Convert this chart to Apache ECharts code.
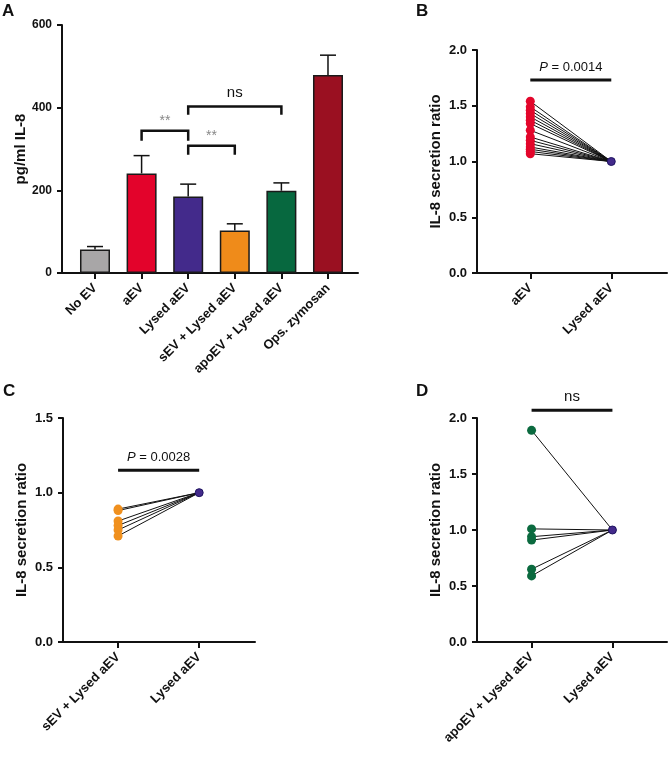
<!DOCTYPE html>
<html>
<head>
<meta charset="utf-8">
<script src="https://cdn.jsdelivr.net/npm/echarts@6/dist/echarts.min.js"></script>
<style>
  html, body { margin: 0; padding: 0; background: #fff; }
  #chart { width: 670px; height: 758px; }
</style>
</head>
<body>
<div id="chart"></div>
<script>
// Panel A: IL-8 concentration per treatment
const catsA = ['No EV', 'aEV', 'Lysed aEV', 'sEV + Lysed aEV', 'apoEV + Lysed aEV', 'Ops. zymosan']
const meansA = [57, 241, 185, 103, 199, 479]
const errA = [7, 43, 30, 16, 19, 48]

// significance brackets in A (category index from/to, top and leg heights in pg/ml)
const brFrom = [1, 2, 2]
const brTo = [2, 3, 4]
const brTop = [344, 308, 403]
const brLeg = [320, 286, 383]
const brText = ['**', '**', 'ns']

// Panels B-D: paired ratios vs. lysed aEV
const catsB = ['aEV', 'Lysed aEV']
const aevRatio = [1.54, 1.49, 1.46, 1.43, 1.40, 1.37, 1.34, 1.28, 1.22, 1.19, 1.16, 1.13, 1.11, 1.09, 1.07]
const catsC = ['sEV + Lysed aEV', 'Lysed aEV']
const sevRatio = [0.89, 0.88, 0.81, 0.78, 0.75, 0.71]
const catsD = ['apoEV + Lysed aEV', 'Lysed aEV']
const apoRatio = [1.89, 1.01, 0.94, 0.91, 0.65, 0.59]
const lysedRatio = 1.0

const sigText = ['P = 0.0014', 'P = 0.0028', 'ns']
const sigY = [1.73, 1.15, 2.07]

const palA = ['#a8a6a7', '#e3032b', '#432a8b', '#ef8b1a', '#07683f', '#9a1021']
const FONT = '"Liberation Sans", Arial, sans-serif'
const INK = '#111'

const chart = echarts.init(document.getElementById('chart'))

function xAxisFor(grid, cats, min, max) {
  const idx = cats.map((_, i) => i)
  return {
    type: 'value', gridIndex: grid, min, max,
    axisLine: { show: true, onZero: false, lineStyle: { color: INK, width: 2 } },
    axisTick: { show: true, length: 6, customValues: idx, lineStyle: { color: INK, width: 2 } },
    axisLabel: {
      customValues: idx, rotate: 45, margin: 13,
      fontFamily: FONT, fontWeight: 'bold', fontSize: 13, color: INK,
      formatter: v => cats[Math.round(v)]
    },
    splitLine: { show: false }
  }
}

function yAxisFor(grid, max, interval, name, fontSize, digits, gap) {
  return {
    type: 'value', gridIndex: grid, min: 0, max, interval,
    name, nameLocation: 'middle', nameGap: gap,
    nameTextStyle: { fontFamily: FONT, fontWeight: 'bold', fontSize: 15, color: INK },
    axisLine: { show: true, onZero: false, lineStyle: { color: INK, width: 2 } },
    axisTick: { show: true, length: 5, lineStyle: { color: INK, width: 2 } },
    axisLabel: {
      margin: 10, fontFamily: FONT, fontWeight: 'bold', fontSize, color: INK,
      formatter: v => v.toFixed(digits)
    },
    splitLine: { show: false }
  }
}

function renderErr(params, api) {
  const x = api.value(0), m = api.value(1), e = api.value(2)
  const base = api.coord([x, m])
  const top = api.coord([x, m + e])
  const hw = 8
  const st = { stroke: INK, lineWidth: 1.5 }
  return {
    type: 'group', children: [
      { type: 'line', shape: { x1: base[0], y1: base[1], x2: top[0], y2: top[1] }, style: st },
      { type: 'line', shape: { x1: top[0] - hw, y1: top[1], x2: top[0] + hw, y2: top[1] }, style: st }
    ]
  }
}

function renderBracket(params, api) {
  const i = params.dataIndex
  const p1 = api.coord([api.value(0), api.value(2)])
  const p2 = api.coord([api.value(1), api.value(2)])
  const leg = api.coord([api.value(0), api.value(3)])[1]
  const isNs = brText[i] === 'ns'
  return {
    type: 'group', children: [
      { type: 'polyline', shape: { points: [[p1[0], leg], p1, p2, [p2[0], leg]] },
        style: { stroke: INK, lineWidth: 2.5, fill: null } },
      { type: 'text', x: (p1[0] + p2[0]) / 2, y: p1[1] - (isNs ? 6 : 3),
        style: { text: brText[i], align: 'center', verticalAlign: 'bottom',
          fontFamily: FONT, fontSize: isNs ? 15 : 14, fill: isNs ? INK : '#888' } }
    ]
  }
}

function renderSig(params, api) {
  const i = api.value(3)
  const p1 = api.coord([api.value(0), api.value(2)])
  const p2 = api.coord([api.value(1), api.value(2)])
  const txt = sigText[i]
  const isP = txt.startsWith('P')
  return {
    type: 'group', children: [
      { type: 'line', shape: { x1: p1[0], y1: p1[1], x2: p2[0], y2: p2[1] },
        style: { stroke: INK, lineWidth: 3 } },
      { type: 'text', x: (p1[0] + p2[0]) / 2, y: p1[1] - 6,
        style: {
          text: isP ? '{i|P}{n|' + txt.slice(1) + '}' : txt,
          align: 'center', verticalAlign: 'bottom',
          fontFamily: FONT, fontSize: isP ? 13 : 15, fill: INK,
          rich: {
            i: { fontFamily: FONT, fontStyle: 'italic', fontSize: 13, fill: INK },
            n: { fontFamily: FONT, fontSize: 13, fill: INK }
          }
        } }
    ]
  }
}

function pairSeries(grid, vals, color, sigIdx) {
  return [
    {
      type: 'lines', coordinateSystem: 'cartesian2d', xAxisIndex: grid, yAxisIndex: grid,
      lineStyle: { color: INK, width: 1, opacity: 1 }, z: 2,
      data: vals.map(v => ({ coords: [[0, v], [1, lysedRatio]] }))
    },
    {
      type: 'scatter', xAxisIndex: grid, yAxisIndex: grid, symbolSize: 9, z: 3,
      itemStyle: { color, opacity: 1 },
      data: vals.map(v => [0, v])
    },
    {
      type: 'scatter', xAxisIndex: grid, yAxisIndex: grid, symbolSize: 8, z: 4,
      itemStyle: { color: palA[2], borderColor: '#1e1360', borderWidth: 1, opacity: 1 },
      data: [[1, lysedRatio]]
    },
    {
      type: 'custom', xAxisIndex: grid, yAxisIndex: grid, clip: false, z: 5,
      renderItem: renderSig,
      data: [[0, 1, sigY[sigIdx], sigIdx]]
    }
  ]
}

const letter = (t, left, top) => ({
  text: t, left, top, padding: 0,
  textStyle: { fontFamily: FONT, fontWeight: 'bold', fontSize: 17, color: INK }
})

const option = {
  backgroundColor: '#fff',
  animation: false,
  title: [letter('A', 2, 3), letter('B', 416, 3), letter('C', 3, 383), letter('D', 416, 383)],
  grid: [
    { left: 62, right: 312, top: 25, bottom: 485, outerBoundsMode: 'none' },
    { left: 477, right: 3, top: 50, bottom: 485, outerBoundsMode: 'none' },
    { left: 63, right: 415, top: 418, bottom: 116, outerBoundsMode: 'none' },
    { left: 477, right: 3, top: 418, bottom: 116, outerBoundsMode: 'none' }
  ],
  xAxis: [
    xAxisFor(0, catsA, -0.708, 5.644),
    xAxisFor(1, catsB, -0.658, 1.688),
    xAxisFor(2, catsC, -0.679, 1.688),
    xAxisFor(3, catsD, -0.675, 1.675)
  ],
  yAxis: [
    yAxisFor(0, 600, 200, 'pg/ml IL-8', 12, 0, 31),
    yAxisFor(1, 2, 0.5, 'IL-8 secretion ratio', 13, 1, 34),
    yAxisFor(2, 1.5, 0.5, 'IL-8 secretion ratio', 13, 1, 34),
    yAxisFor(3, 2, 0.5, 'IL-8 secretion ratio', 13, 1, 34)
  ],
  series: [
    {
      type: 'bar', xAxisIndex: 0, yAxisIndex: 0, barWidth: 30,
      colorBy: 'data', color: palA,
      itemStyle: { borderColor: '#1a1a1a', borderWidth: 1.5 },
      data: meansA.map((m, i) => [i, m])
    },
    {
      type: 'custom', xAxisIndex: 0, yAxisIndex: 0, z: 3,
      renderItem: renderErr,
      data: meansA.map((m, i) => [i, m, errA[i]])
    },
    {
      type: 'custom', xAxisIndex: 0, yAxisIndex: 0, z: 4, clip: false,
      renderItem: renderBracket,
      data: brFrom.map((f, i) => [f, brTo[i], brTop[i], brLeg[i]])
    },
    ...pairSeries(1, aevRatio, '#e3062b', 0),
    ...pairSeries(2, sevRatio, '#f0901e', 1),
    ...pairSeries(3, apoRatio, '#0b6a3f', 2)
  ]
}

chart.setOption(option)
</script>
</body>
</html>
